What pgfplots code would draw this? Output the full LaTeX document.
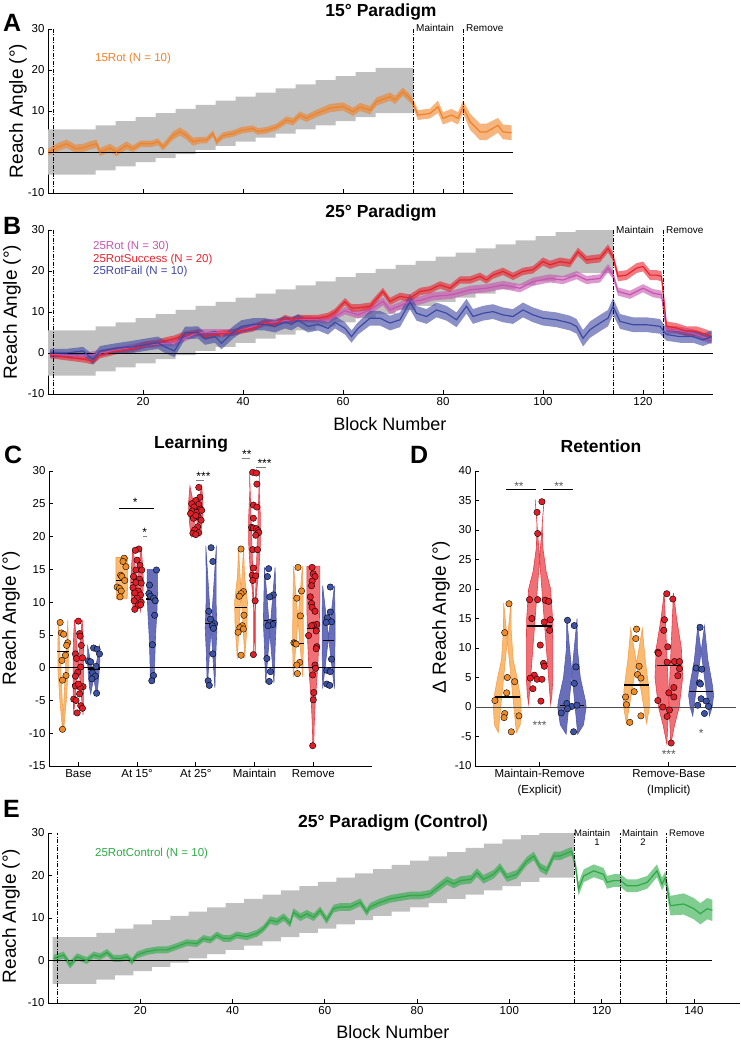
\documentclass[border=0pt]{standalone}
\usepackage{fontspec}
\setmainfont{Liberation Sans}
\usepackage{pgfplots}
\usepackage{pgfplotstable}
\pgfplotsset{compat=1.18}
\usepgfplotslibrary{fillbetween}

\definecolor{cOr}{RGB}{240,130,40}
\definecolor{cRe}{RGB}{232,35,45}
\definecolor{cMa}{RGB}{198,85,175}
\definecolor{cBl}{RGB}{62,72,162}
\definecolor{cGr}{RGB}{45,170,70}
\definecolor{cGray}{RGB}{192,192,192}
\definecolor{vOr}{RGB}{250,186,112}
\definecolor{vRe}{RGB}{240,112,118}
\definecolor{vBl}{RGB}{104,110,186}
\definecolor{eOr}{RGB}{245,160,80}
\definecolor{eRe}{RGB}{230,60,70}
\definecolor{eBl}{RGB}{80,90,175}
\definecolor{pOr}{RGB}{240,140,40}
\definecolor{pRe}{RGB}{225,30,40}
\definecolor{pBl}{RGB}{62,82,165}

% rotation schedule (staircase)
\pgfplotstableread{
x r
1 0
10.5 1
14.5 2
18.5 3
22.5 4
26.5 5
30.5 6
34.5 7
38.5 8
42.5 9
46.5 10
50.5 11
54.5 12
58.5 13
62.5 14
66.5 15
74 15
}\bandA
\pgfplotstableread{
x r
1 0
10.5 1
14.5 2
18.5 3
22.5 4
26.5 5
30.5 6
34.5 7
38.5 8
42.5 9
46.5 10
50.5 11
54.5 12
58.5 13
62.5 14
66.5 15
70.5 16
74.5 17
78.5 18
82.5 19
86.5 20
90.5 21
94.5 22
98.5 23
102.5 24
106.5 25
114 25
}\bandB

% 15Rot
\pgfplotstableread{
x m s
1 0 0.8
3 1.2 1
4.7 2 1
6.5 0.8 1
8 1 1
9.4 1.6 1
10.7 2 1
11.4 0 1
13.4 1 1
14.7 0 1
16.7 1.6 1
18 0.8 0.8
19.5 2 0.8
21.7 2 0.8
23 2.5 0.8
24 1.2 0.8
26 4 1
27.4 5 1
28.7 4 1
30 2.5 1
31.4 2.9 0.8
32.7 2.9 0.8
34 4.5 0.8
34.7 2.5 0.8
36 4 0.8
38 4.5 0.8
39.7 5.3 0.8
42 5.7 0.8
43 5 0.8
44.7 5.3 0.8
46.7 6.1 0.8
48.7 7.8 0.9
50 7.4 0.9
51.4 9 0.9
52.7 8.2 0.9
54.7 9.4 0.9
57.4 10.7 1
60 11.1 1
62 9.8 1
63.4 11 1
65.4 10.2 1
66.7 12.3 1
69.4 13.5 1
70.4 12.7 1
72 14.7 1
73.7 12.7 1
75 9 1.2
77.4 9.4 1.2
79 11 1.5
80 8.2 1.5
81.7 9 1.5
83 8.2 1.5
84 11 1.5
85.4 7.4 2
87.4 4.9 2
88.7 4.9 2
91 6.5 1.8
92 4.9 1.8
93.7 4.7 1.8
}\dA

% 25RotSuccess
\pgfplotstableread{
x m s
1.4 -0.5 0.8
4.7 -1 0.8
8 -1.5 0.8
10 -2 0.8
11.4 -0.5 0.8
14.7 0.5 0.8
18 1 0.8
20.4 2 0.8
23 2.5 0.8
24.4 3 0.8
26.3 3.5 0.8
28.4 4.5 0.8
31 5 0.8
32.4 4 0.8
34.4 4.5 0.8
38 5 0.8
39.7 5.5 0.8
42 6 0.8
44.4 7.5 0.8
46.4 7 0.8
48.4 8.5 0.8
49.7 8 0.8
51 8.5 0.8
53 8.5 0.8
55 8.5 0.8
57 9 0.8
58.4 10 0.8
60.4 12.5 0.9
61.7 11 0.9
63 11 0.9
65.4 11.4 0.9
68 15 0.9
69.4 12.6 0.9
71.4 13.8 0.9
73.4 13.4 0.9
75.4 15 0.9
77.4 15.4 0.9
79.4 16.6 0.9
81.4 15.8 0.9
83.4 17.8 0.9
85.4 17.8 0.9
87.4 18.7 0.9
88.7 17.8 0.9
90 19 0.9
92 19.9 0.9
94 18.7 0.9
96 19.9 0.9
98 20.3 0.9
100 22.3 1
101.4 21.5 1
103.4 22.3 1
105.4 21.9 1
107 24.7 1
108.7 22.7 1
111.4 23.1 1
113 25.5 1
114 23.5 1
115 18.7 1.2
116.7 19 1.2
118.7 20.7 1.2
120 21.1 1.2
121.4 19 1.2
122.7 19 1.2
123.7 18.7 1.2
124.7 6.5 1.2
126.7 6.1 1.2
128.7 5.3 1.2
130.7 5.3 1.2
132.7 4.5 1.2
133.7 4 1.2
}\dBr

% 25RotFail
\pgfplotstableread{
x m s
1.4 0 1
4.7 0 1
8 0.5 1
10 -1.6 1.2
11.4 0.5 1.2
14.7 1.2 1.2
18 1.5 1.5
20.4 2 1.5
23 2.5 1.5
24.4 1.5 1.5
26.3 0.5 1.5
28.4 4.9 1.5
31 5 1.5
32.4 3.5 1.5
34.4 4 1.5
35.7 2.4 1.5
38 5 1.5
39.7 6.5 1.5
42 7 1.5
44.4 7 1.5
46.4 6.5 1.5
48.4 7.5 1.5
49.7 7 1.5
51 8 1.5
53 6.5 1.5
55 7 1.5
57 6 1.5
58.4 7.5 1.5
60.4 6 1.5
61.7 4 1.5
63 6 1.5
65.4 8.5 1.8
67.4 8.5 1.8
69.4 7.3 1.8
71.4 8.1 1.8
73.4 12.5 1.8
74.7 9.7 1.8
76.7 8.9 1.8
78.7 10.5 1.8
80.7 9.7 1.8
82.7 8.1 1.8
84.7 11.4 1.8
86 8.9 1.8
88 9.7 1.8
90 10.1 1.8
92 9.3 1.8
94 8.9 1.8
96 10.5 1.8
98 9.3 1.8
100 8.5 1.8
102.7 8.1 1.8
105.4 7.3 1.8
106.7 6.5 1.8
108 3.6 2
109.4 5.7 2
111.4 7.3 2
113 8.5 2
114 11.4 2
115.4 7.7 1.8
118 6.9 1.8
120.7 6.9 1.8
123.4 6.5 1.8
124.7 4.5 1.5
127.4 4 1.5
130 4 1.5
132 3.2 1.5
133.7 4 1.5
}\dBb

% 25Rot (all)
\pgfplotstableread{
x m s
1.4 -0.3 0.8
8 -0.8 0.8
14.7 0.7 0.8
20.4 2 0.8
26.3 2.5 0.8
31 5 0.8
38 5 0.8
44.4 7.3 0.8
51 8.3 0.8
57 8 0.8
60.4 10.3 0.9
63 9.3 0.9
65.4 10.5 1
68 12.6 1
69.4 10.5 1
71.4 11.5 1
73.4 12.6 1
75.4 12.8 1
78 13.8 1
81.7 14.2 1
85.4 15.4 1
88.7 15.8 1
92 16.6 1
95.4 15.8 1
98 17.4 1
101.4 18.2 1
104 17.8 1
106.7 19 1
108.7 17.8 1
111.4 18.2 1
113 20.7 1
114 19 1
115 15 1
117.4 14.2 1
120 15.8 1
122 14.6 1
123.7 14.2 1
124.7 5.7 1
127 5.5 1
130 4.8 1
133.7 3.2 1
}\dBm

% 25RotControl
\pgfplotstableread{
x m s
1.2 0.5 0.8
3.4 1.3 0.8
4.8 -1 0.9
6.3 0.9 0.8
8.4 0 0.8
9.9 1.3 0.8
11.3 0.9 0.8
12.8 1.9 0.8
14.2 0.5 0.8
15.7 0.5 0.8
17.1 0.9 0.8
18.2 -0.2 0.8
19.3 1.3 0.8
21.4 2.1 0.8
23.6 2.5 0.8
25.8 2.5 0.8
27.9 3.3 0.8
30.1 4.2 0.8
32.3 4 0.8
33.7 5.2 0.8
35.2 4.8 0.8
36.6 6 0.8
38 5.2 0.8
39.5 5.2 0.8
40.9 6 0.8
43.1 5.6 0.8
45.3 6.4 0.8
46.7 7.5 0.8
48.2 9.5 0.9
49.6 9.1 0.9
51.1 10.2 0.9
52.5 8.7 0.9
53.2 11.4 0.9
54.7 10.2 0.9
56.1 11 0.9
57.6 10.2 0.9
59 11.8 0.9
60.4 9.5 0.9
61.9 12.2 0.9
63.3 12.6 0.9
65.5 12.6 0.9
67.7 13.7 0.9
69.1 11.4 0.9
69.8 12.6 0.9
72 13.7 0.9
74.2 14.5 0.9
76.3 14.9 0.9
78.5 15.3 0.9
80.7 15.3 0.9
82.8 15.7 0.9
85 17.6 1
86.5 18.8 1
88 18 1
89.4 18.8 1
91.7 19.1 1
93 20.7 1
94.4 19.1 1
96.6 20.3 1
98 21.9 1
99.5 19.5 1
101.6 20.3 1
103.8 23.4 1
105.3 24.6 1
106.7 21.9 1
108.1 21.1 1
109.6 24.6 1
111 24.6 1
112.5 25.3 1
113.5 25.7 1
114.3 22.6 1.2
115 16.8 1.5
116.1 19.9 1.5
118.3 21.1 1.5
120.4 20.3 1.5
121.2 18.4 1.5
122.6 18.8 1.5
124.1 18.8 1.5
125.5 17.6 1.5
127.7 17.6 1.5
129.9 18.4 1.5
132 21.1 1.5
133.1 18 1.5
133.8 19.5 1.5
134.9 12.9 2.3
137.8 13.3 2.5
140 12.2 2.5
141.4 11 2.5
142.9 12.2 2.5
144 11.8 2.5
}\dE

\pgfplotsset{
  panel/.style={scale only axis, anchor=south west,
    axis x line*=bottom, axis y line*=left,
    tick align=inside, major tick length=4pt,
    axis line style={black, line width=0.7pt},
    tick style={black, line width=0.7pt},
    tick label style={font=\fontsize{11.5}{13}\selectfont},
    /pgf/number format/assume math mode=true},
  dd/.style={black, line width=0.7pt, dash pattern=on 4pt off 1.5pt on 1pt off 1.5pt},
}

\newcommand{\ribbon}[3]{%
  \addplot[draw=none, name path=#3U] table[x=x, y expr=\thisrow{m}+\thisrow{s}] {#1};
  \addplot[draw=none, name path=#3L] table[x=x, y expr=\thisrow{m}-\thisrow{s}] {#1};
  \addplot[fill=#2, fill opacity=0.6, draw=none] fill between[of=#3U and #3L];
  \addplot[#2, line width=1.2pt] table[x=x, y=m] {#1};
}
\newcommand{\band}[2]{%
  \addplot[draw=none, const plot, name path=#2U] table[x=x, y expr=\thisrow{r}+5.5] {#1};
  \addplot[draw=none, const plot, name path=#2L] table[x=x, y expr=\thisrow{r}-5.5] {#1};
  \addplot[fill=cGray, draw=none] fill between[of=#2U and #2L];
}
\newcommand{\violin}[5]{%
  \addplot[draw=none, name path=#5L] table[row sep=\\, x expr={#1-\thisrow{w}}, y=y] {y w\\ #4};
  \addplot[draw=none, name path=#5R] table[row sep=\\, x expr={#1+\thisrow{w}}, y=y] {y w\\ #4};
  \addplot[fill=#2, draw=#3, line width=0.6pt] fill between[of=#5L and #5R];
}
\newcommand{\pts}[3]{%
  \addplot[only marks, mark=*, mark size=3.2pt, mark options={fill=#2, draw=black, line width=0.4pt}]
    table[row sep=\\, x expr={#1+\thisrow{d}}, y=y] {y d\\ #3};
}

\begin{document}
\begin{tikzpicture}
% ---------------- A ----------------
\begin{axis}[panel, at={(48pt,-193pt)}, width=465pt, height=164pt,
  xmin=1, xmax=94, ymin=-10, ymax=30, xtick={20,40,60,80}, xticklabels={},
  ytick={-10,0,10,20,30}]
\band{\bandA}{ba}
\addplot[black, line width=0.7pt] coordinates {(1,0) (94,0)};
\ribbon{\dA}{cOr}{ra}
\addplot[dd] coordinates {(2,-10) (2,30)};
\addplot[dd] coordinates {(74,-10) (74,30)};
\addplot[dd] coordinates {(84,-10) (84,30)};
\end{axis}
% ---------------- B ----------------
\begin{axis}[panel, at={(48pt,-394pt)}, width=665pt, height=164pt,
  xmin=1, xmax=134, ymin=-10, ymax=30, xtick={20,40,...,120},
  ytick={-10,0,10,20,30}]
\band{\bandB}{bb}
\addplot[black, line width=0.7pt] coordinates {(1,0) (134,0)};
\ribbon{\dBm}{cMa}{rm}
\ribbon{\dBr}{cRe}{rr}
\ribbon{\dBb}{cBl}{rb}
\addplot[dd] coordinates {(2,-10) (2,30)};
\addplot[dd] coordinates {(114,-10) (114,30)};
\addplot[dd] coordinates {(124,-10) (124,30)};
\end{axis}
% ---------------- C ----------------
\begin{axis}[panel, at={(49pt,-766pt)}, width=323pt, height=295pt,
  xmin=0.5, xmax=6, ymin=-15, ymax=30, xtick={1,2,3,4,5},
  xticklabels={Base, At 15°, At 25°, Maintain, Remove},
  ytick={-15,-10,...,30}, clip=false]
\violin{0.74}{vOr}{eOr}{7.2 0.08\\ 5 0.085\\ 2 0.09\\ 0 0.09\\ -2 0.075\\ -5 0.055\\ -8 0.025\\ -9.5 0.01\\}{o1}
\violin{1.0}{vRe}{eRe}{7.3 0.065\\ 5 0.08\\ 2 0.09\\ -2 0.09\\ -5 0.085\\ -7.2 0.08\\}{r1}
\violin{1.26}{vBl}{eBl}{3.2 0.1\\ 1 0.105\\ -1 0.09\\ -3 0.07\\ -4 0.05\\}{b1}
\violin{1.74}{vOr}{eOr}{16.8 0.1\\ 15 0.1\\ 13 0.1\\ 11.5 0.095\\ 10.5 0.09\\}{o2}
\violin{2.0}{vRe}{eRe}{18.3 0.07\\ 16 0.09\\ 13 0.11\\ 10.5 0.09\\ 8.6 0.055\\}{r2}
\violin{2.26}{vBl}{eBl}{15 0.09\\ 12 0.09\\ 9 0.08\\ 5 0.055\\ 1 0.04\\ -2.2 0.035\\}{b2}
\violin{3.0}{vRe}{eRe}{27.7 0.1\\ 25.5 0.12\\ 23.5 0.12\\ 21.5 0.1\\ 20 0.07\\}{r3}
\violin{3.26}{vBl}{eBl}{18.6 0.09\\ 15 0.085\\ 10 0.085\\ 6 0.1\\ 2 0.08\\ -3.1 0.065\\}{b3}
\violin{3.77}{vOr}{eOr}{18.2 0.043\\ 14 0.06\\ 10 0.11\\ 6 0.1\\ 3 0.075\\ 1.4 0.065\\}{o4}
\violin{4.0}{vRe}{eRe}{30 0.085\\ 27 0.08\\ 23 0.1\\ 19 0.1\\ 15 0.075\\ 12 0.04\\ 9 0.015\\ 2 0.015\\}{r4}
\violin{4.26}{vBl}{eBl}{15.3 0.09\\ 11 0.1\\ 7 0.11\\ 3 0.09\\ 0 0.08\\ -2.3 0.07\\}{b4}
\violin{4.74}{vOr}{eOr}{15.5 0.075\\ 11 0.085\\ 6 0.09\\ 3 0.09\\ 0 0.085\\ -1.4 0.08\\}{o5}
\violin{5.0}{vRe}{eRe}{15.5 0.11\\ 10 0.11\\ 5 0.1\\ 0 0.075\\ -5 0.035\\ -9 0.015\\ -12 0.008\\}{r5}
\violin{5.26}{vBl}{eBl}{12.5 0.1\\ 8 0.11\\ 4 0.11\\ 0 0.105\\ -3.2 0.1\\}{b5}
\addplot[black, line width=0.7pt] coordinates {(0.5,0) (6,0)};
\pts{0.74}{pOr}{6.9 -0.05\\ 5.3 -0.03\\ 5.1 0.01\\ 3.8 0.08\\ 3.4 0.06\\ 1.9 0.04\\ 1.1 -0.02\\ -1.2 0.05\\ -1.9 -0.01\\ -9.4 -0.01\\}
\pts{1.0}{pRe}{7.1 0\\ 5.2 0.02\\ 4.8 0.03\\ 3.4 0.05\\ 2.1 -0.05\\ 1.4 -0.03\\ 1.5 0.07\\ -0.7 -0.01\\ -1.3 -0.05\\ -2.8 -0.05\\ -2.9 0.08\\ -3.0 0.03\\ -4.0 0.02\\ -4.8 -0.08\\ -5.0 -0.04\\ -5.8 0.04\\ -6.2 0.07\\ -6.9 -0.02\\ -2.5 0\\ 0.1 0.04\\}
\pts{1.26}{pBl}{3.0 0\\ 2.8 0.06\\ 2.1 0.1\\ 1.0 -0.09\\ 0.9 -0.05\\ 0.2 0.04\\ -0.8 -0.02\\ -1.3 0.03\\ -1.7 -0.03\\ -3.9 0.05\\}
\pts{1.74}{pOr}{16.7 0.04\\ 16.2 0.02\\ 15.4 0.07\\ 14.1 -0.02\\ 13.9 0\\ 13.3 0.05\\ 12.3 -0.08\\ 12.1 -0.04\\ 11.7 -0.01\\ 10.8 -0.03\\}
\pts{2.0}{pRe}{18.1 0.03\\ 17.9 -0.03\\ 16.4 0\\ 15.6 0.05\\ 14.9 -0.02\\ 14.9 0.08\\ 13.9 -0.06\\ 13.5 0.04\\ 13.0 -0.02\\ 12.9 0.07\\ 12.2 -0.07\\ 11.7 0.02\\ 11.4 -0.04\\ 11.1 0.06\\ 10.6 0\\ 10.2 -0.05\\ 10.0 0.07\\ 9.5 0.02\\ 8.9 -0.04\\ 9.6 0.06\\}
\pts{2.26}{pBl}{14.9 0.07\\ 12.6 -0.05\\ 11.3 -0.06\\ 10.9 -0.03\\ 10.6 0.02\\ 10.2 0.05\\ 8.0 0.04\\ 3.5 0\\ -1.2 0.02\\ -2.0 -0.01\\}
\pts{3.0}{pRe}{27.5 0.05\\ 26.0 0.07\\ 25.5 0\\ 25.0 -0.07\\ 24.9 0.05\\ 24.5 -0.03\\ 24.2 0.08\\ 23.9 -0.06\\ 23.7 0.02\\ 23.5 -0.09\\ 23.0 0.04\\ 22.8 -0.04\\ 22.5 0.09\\ 21.5 0.03\\ 21.0 -0.02\\ 20.6 0.05\\ 20.5 -0.05\\ 20.3 0\\ 24.0 0.1\\ 23.2 0\\}
\pts{3.26}{pBl}{18.3 0\\ 16.2 0.03\\ 8.6 -0.04\\ 7.4 -0.01\\ 6.7 0.06\\ 6.4 0.02\\ 6.0 0.04\\ 2.1 0.03\\ -2.0 -0.05\\ -2.7 -0.03\\}
\pts{3.77}{pOr}{18.1 0\\ 11.6 0.04\\ 11.3 0\\ 10.9 -0.03\\ 8.0 0.05\\ 6.4 0.02\\ 6.1 -0.02\\ 5.9 0.04\\ 5.4 -0.05\\ 1.9 0\\}
\pts{4.0}{pRe}{29.8 -0.03\\ 29.7 0.03\\ 28.0 0.04\\ 24.8 -0.02\\ 24.5 0.04\\ 22.8 -0.02\\ 21.4 -0.05\\ 21.3 -0.02\\ 21.2 0.03\\ 20.9 0.06\\ 20.6 0.07\\ 20.2 0.02\\ 18.0 -0.03\\ 18.0 0.05\\ 15.2 -0.02\\ 14.1 -0.04\\ 14.0 0.02\\ 13.3 -0.03\\ 10.2 0.01\\ 2.0 -0.02\\}
\pts{4.26}{pBl}{15.1 -0.02\\ 13.9 -0.04\\ 11.1 0.06\\ 10.8 0\\ 6.9 0\\ 6.6 0.05\\ 6.4 -0.03\\ 1.4 -0.05\\ -0.6 0.01\\ -2.1 -0.01\\}
\pts{4.74}{pOr}{15.3 0\\ 11.7 0.06\\ 10.6 -0.02\\ 7.9 0.04\\ 3.8 -0.07\\ 3.7 -0.05\\ 3.6 -0.03\\ 0.8 0.03\\ 0.4 -0.02\\ -0.9 -0.01\\}
\pts{5.0}{pRe}{15.3 -0.02\\ 14.3 0\\ 13.9 0.03\\ 13.2 -0.02\\ 12.5 -0.03\\ 10.8 -0.05\\ 9.8 -0.03\\ 9.2 -0.02\\ 8.6 0.03\\ 6.6 0.06\\ 6.5 0\\ 6.4 -0.03\\ 5.6 0.05\\ 4.9 -0.08\\ 3.2 0.06\\ 2.9 0.05\\ 0.4 0.03\\ -0.1 0.04\\ -1.1 -0.01\\ -3.8 0.01\\ -4.9 0\\ -11.9 -0.01\\}
\pts{5.26}{pBl}{12.3 0.03\\ 8.5 0.03\\ 7.6 -0.02\\ 7.0 0.05\\ 6.9 -0.04\\ 1.3 0.05\\ -0.4 -0.03\\ -0.6 0.03\\ -2.5 -0.03\\ -2.7 0.02\\}
% medians
\addplot[black, line width=1.4pt] coordinates {(0.64,2.5) (0.84,2.5)};
\addplot[black, line width=1.4pt] coordinates {(0.9,-2.6) (1.1,-2.6)};
\addplot[black, line width=1.4pt] coordinates {(1.16,-0.2) (1.36,-0.2)};
\addplot[black, line width=1.4pt] coordinates {(1.64,13.3) (1.84,13.3)};
\addplot[black, line width=1.4pt] coordinates {(1.9,13) (2.1,13)};
\addplot[black, line width=1.4pt] coordinates {(2.16,10.5) (2.36,10.5)};
\addplot[black, line width=1.4pt] coordinates {(2.9,24) (3.1,24)};
\addplot[black, line width=1.4pt] coordinates {(3.16,6.7) (3.36,6.7)};
\addplot[black, line width=1.4pt] coordinates {(3.67,9.2) (3.87,9.2)};
\addplot[black, line width=1.4pt] coordinates {(3.9,21) (4.1,21)};
\addplot[black, line width=1.4pt] coordinates {(4.16,7.2) (4.36,7.2)};
\addplot[black, line width=1.4pt] coordinates {(4.64,3.7) (4.84,3.7)};
\addplot[black, line width=1.4pt] coordinates {(4.9,6) (5.1,6)};
\addplot[black, line width=1.4pt] coordinates {(5.16,4.1) (5.36,4.1)};
% significance
\draw[black, line width=0.8pt] (axis cs:1.70,24.3) -- (axis cs:2.28,24.3);
\node[anchor=base, inner sep=0, font=\fontsize{12}{12}\selectfont] at (axis cs:1.97,24.65) {*};
\draw[gray, line width=0.7pt] (axis cs:2.10,20.1) -- (axis cs:2.17,20.1);
\node[anchor=base, inner sep=0, font=\fontsize{12}{12}\selectfont] at (axis cs:2.13,19.95) {*};
\draw[gray, line width=0.7pt] (axis cs:3.0,28.6) -- (axis cs:3.14,28.6);
\node[anchor=base, inner sep=0, font=\fontsize{12}{12}\selectfont] at (axis cs:3.13,28.55) {***};
\draw[gray, line width=0.7pt] (axis cs:3.79,31.9) -- (axis cs:3.93,31.9);
\node[anchor=base, inner sep=0, font=\fontsize{12}{12}\selectfont] at (axis cs:3.87,31.95) {**};
\draw[gray, line width=0.7pt] (axis cs:4.03,30.6) -- (axis cs:4.19,30.6);
\node[anchor=base, inner sep=0, font=\fontsize{12}{12}\selectfont] at (axis cs:4.17,30.55) {***};
\end{axis}
% ---------------- D ----------------
\begin{axis}[panel, at={(475pt,-766pt)}, width=261pt, height=295pt,
  xmin=0.5, xmax=2.52, ymin=-10, ymax=40, xtick={1,2},
  xticklabels={{Maintain-Remove\\(Explicit)},{Remove-Base\\(Implicit)}},
  xticklabel style={align=center, font=\fontsize{11.5}{16}\selectfont},
  ytick={-10,-5,...,40}, clip=false]
\violin{0.75}{vOr}{eOr}{17.6 0.028\\ 13 0.03\\ 8 0.045\\ 5 0.075\\ 2 0.1\\ 0 0.108\\ -3 0.1\\ -4.3 0.07\\}{do1}
\violin{1.0}{vRe}{eRe}{35.2 0.035\\ 31 0.02\\ 27 0.025\\ 23 0.05\\ 20 0.085\\ 15 0.1\\ 10 0.103\\ 5 0.103\\ 2 0.095\\ 0.5 0.085\\}{dr1}
\violin{1.25}{vBl}{eBl}{15 0.04\\ 10 0.042\\ 5 0.065\\ 1 0.105\\ 0 0.11\\ -3 0.09\\ -4.6 0.045\\}{db1}
\violin{1.75}{vOr}{eOr}{13.3 0.045\\ 8 0.067\\ 3 0.097\\ 0 0.1\\ -2.8 0.078\\}{do2}
\violin{2.0}{vRe}{eRe}{19.3 0.036\\ 15 0.06\\ 10 0.097\\ 5 0.107\\ 0 0.08\\ -3 0.045\\ -6.3 0.015\\}{dr2}
\violin{2.25}{vBl}{eBl}{13.7 0.026\\ 8 0.052\\ 4 0.085\\ 2 0.097\\ 0 0.085\\ -1.5 0.065\\}{db2}
\addplot[black!70, line width=0.8pt] coordinates {(0.5,0) (2.52,0)};
\pts{0.75}{pOr}{17.5 0.013\\ 12.6 -0.02\\ 5.0 0\\ 4.3 0.057\\ 2.4 -0.005\\ 1.1 -0.096\\ -1.1 -0.02\\ -1.8 -0.025\\ -1.5 0.09\\ -4.2 0.031\\}
\pts{1.0}{pRe}{34.8 0.018\\ 33.0 -0.02\\ 29.4 -0.015\\ 18.2 -0.078\\ 18.2 -0.015\\ 18.1 0.044\\ 17.9 0.07\\ 15.0 -0.06\\ 14.8 0.083\\ 14.4 0.036\\ 13.0 0.078\\ 10.5 0.005\\ 7.4 0.03\\ 6.9 0.036\\ 5.4 -0.041\\ 4.9 -0.072\\ 4.7 -0.02\\ 4.7 0.018\\ 3.1 -0.052\\ 1.0 0.01\\}
\pts{1.25}{pBl}{14.7 -0.034\\ 13.8 0.018\\ 6.8 0.031\\ 4.0 0.018\\ 0.6 -0.039\\ 0.1 0\\ -0.3 -0.034\\ -1.0 -0.083\\ 0.3 0.039\\ -4.2 0.013\\}
\pts{1.75}{pOr}{13.2 0\\ 11.6 -0.005\\ 6.9 0.02\\ 5.5 0.008\\ 4.9 0.034\\ 2.6 -0.018\\ 1.7 -0.085\\ 0.4 -0.078\\ -1.5 0.034\\ -2.6 -0.052\\}
\pts{2.0}{pRe}{19.2 -0.016\\ 18.3 0.031\\ 14.8 -0.034\\ 13.0 -0.039\\ 10.2 -0.008\\ 9.3 -0.085\\ 9.1 -0.08\\ 7.6 -0.013\\ 7.7 0.044\\ 7.7 0.083\\ 6.5 0.083\\ 5.3 0.07\\ 3.3 0.039\\ 2.4 0\\ 1.7 0.039\\ 1.1 -0.085\\ 0 -0.047\\ -0.5 0.005\\ -1.6 -0.013\\ -6.1 0.018\\}
\pts{2.25}{pBl}{13.5 -0.008\\ 6.6 -0.039\\ 6.4 0.005\\ 4.1 -0.013\\ 3.9 -0.005\\ 1.4 0\\ 1.0 0.039\\ 0.3 -0.026\\ 0.1 0.057\\ -1.1 0.026\\}
\addplot[black, line width=1.4pt] coordinates {(0.655,1.7) (0.845,1.7)};
\addplot[black, line width=1.4pt] coordinates {(0.905,13.7) (1.095,13.7)};
\addplot[black, line width=1.4pt] coordinates {(1.155,0.3) (1.345,0.3)};
\addplot[black, line width=1.4pt] coordinates {(1.655,3.7) (1.845,3.7)};
\addplot[black, line width=1.4pt] coordinates {(1.905,7.0) (2.095,7.0)};
\addplot[black, line width=1.4pt] coordinates {(2.155,2.6) (2.345,2.6)};
\draw[black, line width=0.8pt] (axis cs:0.74,36.8) -- (axis cs:0.97,36.8);
\draw[black, line width=0.8pt] (axis cs:1.03,36.8) -- (axis cs:1.26,36.8);
\node[anchor=base, inner sep=0, text=black!65, font=\fontsize{12}{12}\selectfont] at (axis cs:0.84,36.75) {**};
\node[anchor=base, inner sep=0, text=black!65, font=\fontsize{12}{12}\selectfont] at (axis cs:1.15,36.75) {**};
\node[anchor=base, inner sep=0, text=black!65, font=\fontsize{12}{12}\selectfont] at (axis cs:1.0,-3.87) {***};
\node[anchor=base, inner sep=0, text=black!65, font=\fontsize{12}{12}\selectfont] at (axis cs:2.0,-8.77) {***};
\node[anchor=base, inner sep=0, text=black!65, font=\fontsize{12}{12}\selectfont] at (axis cs:2.25,-5.17) {*};
\end{axis}
% ---------------- E ----------------
\begin{axis}[panel, at={(48pt,-1003pt)}, width=692pt, height=170pt,
  xmin=0, xmax=150, ymin=-10, ymax=30, xtick={20,40,...,140},
  ytick={-10,0,10,20,30}]
\band{\bandB}{be}
\addplot[black, line width=0.7pt] coordinates {(0,0) (144,0)};
\ribbon{\dE}{cGr}{rg}
\addplot[dd] coordinates {(2,-10) (2,30)};
\addplot[dd] coordinates {(114,-10) (114,30)};
\addplot[dd] coordinates {(124,-10) (124,30)};
\addplot[dd] coordinates {(134,-10) (134,30)};
\end{axis}

% ---------------- texts ----------------
\tikzset{ttl/.style={anchor=base, inner sep=0, font=\bfseries\fontsize{17.5}{20}\selectfont},
  plet/.style={anchor=base west, inner sep=0, font=\bfseries\fontsize{25}{28}\selectfont},
  ylab/.style={rotate=90, inner sep=0, font=\fontsize{19}{22}\selectfont},
  xlab/.style={anchor=base, inner sep=0, font=\fontsize{18}{21}\selectfont},
  leg/.style={anchor=base west, inner sep=0, font=\fontsize{11.5}{13}\selectfont},
  ph/.style={anchor=base west, inner sep=0, font=\fontsize{10}{12}\selectfont}}
\node[ttl] at (381pt,-17pt) {15° Paradigm};
\node[ttl] at (381pt,-218pt) {25° Paradigm};
\node[ttl] at (191pt,-448pt) {Learning};
\node[ttl] at (601pt,-452pt) {Retention};
\node[ttl] at (393pt,-827pt) {25° Paradigm (Control)};
\node[plet] at (3pt,-32pt) {A};
\node[plet] at (3pt,-235pt) {B};
\node[plet] at (4pt,-463pt) {C};
\node[plet] at (410pt,-463pt) {D};
\node[plet] at (3pt,-817pt) {E};
\node[ylab] at (18pt,-111pt) {Reach Angle (°)};
\node[ylab] at (12pt,-312pt) {Reach Angle (°)};
\node[ylab] at (11pt,-618pt) {Reach Angle (°)};
\node[ylab] at (441pt,-617pt) {Δ Reach Angle (°)};
\node[ylab] at (11pt,-916pt) {Reach Angle (°)};
\node[xlab] at (390pt,-430pt) {Block Number};
\node[xlab] at (393pt,-1038pt) {Block Number};
\node[leg, text=cOr] at (95pt,-62pt) {15Rot (N = 10)};
\node[leg, text=cMa] at (93pt,-250pt) {25Rot (N = 30)};
\node[leg, text=cRe] at (93pt,-263pt) {25RotSuccess (N = 20)};
\node[leg, text=cBl] at (93pt,-275pt) {25RotFail (N = 10)};
\node[leg, text=cGr] at (95pt,-856pt) {25RotControl (N = 10)};
\node[ph] at (416pt,-32pt) {Maintain};
\node[ph] at (466pt,-32pt) {Remove};
\node[ph] at (616pt,-234pt) {Maintain};
\node[ph] at (666pt,-234pt) {Remove};
\node[ph, font=\fontsize{9.5}{11}\selectfont] at (574pt,-836pt) {Maintain};
\node[anchor=base, inner sep=0, font=\fontsize{9.5}{11}\selectfont] at (597pt,-845pt) {1};
\node[ph, font=\fontsize{9.5}{11}\selectfont] at (622pt,-836pt) {Maintain};
\node[anchor=base, inner sep=0, font=\fontsize{9.5}{11}\selectfont] at (643pt,-845pt) {2};
\node[ph, font=\fontsize{9.5}{11}\selectfont] at (669pt,-836pt) {Remove};
\pgfresetboundingbox
\path[use as bounding box] (0pt,0pt) rectangle (740pt,-1040pt);
\end{tikzpicture}
\end{document}
